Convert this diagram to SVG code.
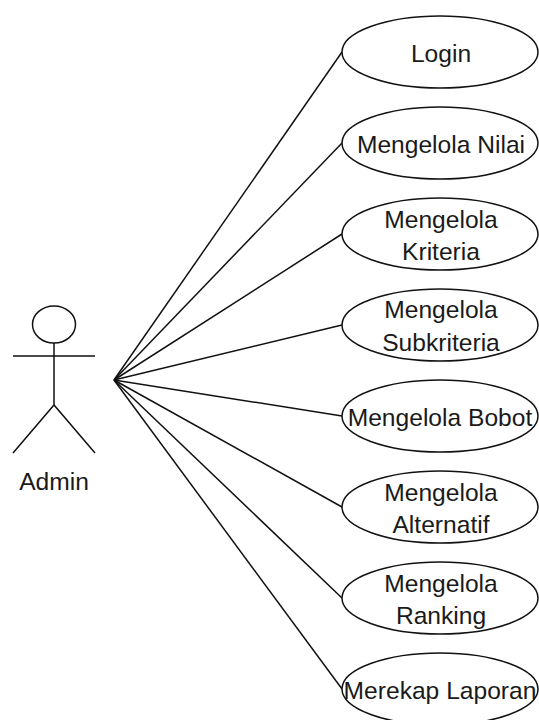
<svg xmlns="http://www.w3.org/2000/svg" width="539" height="720" viewBox="0 0 539 720">
<style>
.s{fill:none;stroke:#111;stroke-width:1.5}
.e{fill:#fff;stroke:#111;stroke-width:1.5}
text{font-family:"Liberation Sans",Arial,sans-serif;font-size:24.6px;fill:#1a1a1a;text-anchor:middle}
</style>
<rect width="539" height="720" fill="#fff"/>
<g id="connectors" class="s">
<line x1="114" y1="380" x2="342" y2="52"/>
<line x1="114" y1="380" x2="342" y2="143"/>
<line x1="114" y1="380" x2="342" y2="234"/>
<line x1="114" y1="380" x2="342" y2="325"/>
<line x1="114" y1="380" x2="342" y2="416"/>
<line x1="114" y1="380" x2="342" y2="507"/>
<line x1="114" y1="380" x2="342" y2="598"/>
<line x1="114" y1="380" x2="342" y2="689"/>
</g>
<g id="admin">
<ellipse class="s" cx="54" cy="324.5" rx="21.5" ry="18.5"/>
<path class="s" d="M54 343V405M13 356H95M13 453L54 405L95 453"/>
<text x="54" y="490">Admin</text>
</g>
<g id="login"><ellipse class="e" cx="440" cy="52" rx="98" ry="36"/><text x="441" y="62">Login</text></g>
<g id="nilai"><ellipse class="e" cx="440" cy="143" rx="98" ry="36"/><text x="441" y="153">Mengelola Nilai</text></g>
<g id="kriteria"><ellipse class="e" cx="440" cy="234" rx="98" ry="36"/><text x="441" y="228">Mengelola</text><text x="441" y="260">Kriteria</text></g>
<g id="subkriteria"><ellipse class="e" cx="440" cy="325" rx="98" ry="36"/><text x="441" y="318">Mengelola</text><text x="441" y="351">Subkriteria</text></g>
<g id="bobot"><ellipse class="e" cx="440" cy="416" rx="98" ry="36"/><text x="440" y="426">Mengelola Bobot</text></g>
<g id="alternatif"><ellipse class="e" cx="440" cy="507" rx="98" ry="36"/><text x="441" y="501">Mengelola</text><text x="441" y="533">Alternatif</text></g>
<g id="ranking"><ellipse class="e" cx="440" cy="598" rx="98" ry="36"/><text x="441" y="592">Mengelola</text><text x="441" y="624">Ranking</text></g>
<g id="laporan"><ellipse class="e" cx="440" cy="689" rx="98" ry="36"/><text x="440" y="699">Merekap Laporan</text></g>
</svg>
